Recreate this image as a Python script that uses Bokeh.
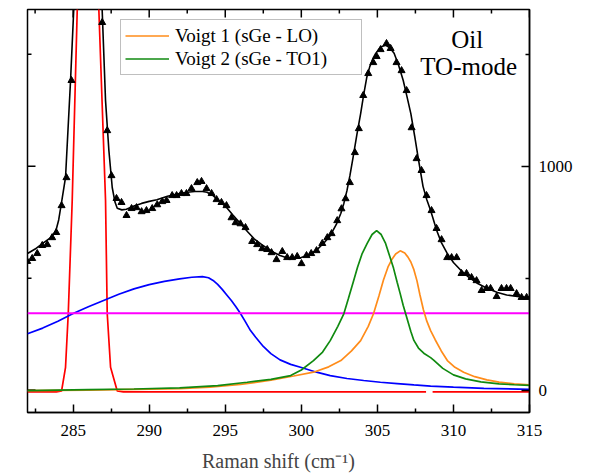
from bokeh.plotting import figure
from bokeh.models import Range1d, FixedTicker, Legend, LegendItem, Label
from bokeh.embed import file_html
from bokeh.resources import INLINE

NAN = float("nan")

# measured spectrum (triangles)
data_x = [281.98, 282.31, 282.64, 282.97, 283.30, 283.62, 283.89, 284.24, 284.56, 284.89,
          285.22, 285.55, 285.88, 286.21, 286.58, 286.91, 287.24, 287.52, 287.85, 288.18,
          288.51, 288.84, 289.17, 289.50, 289.82, 290.20, 290.53, 290.86, 291.14, 291.51,
          291.80, 292.12, 292.45, 292.78, 293.16, 293.44, 293.77, 294.10, 294.43, 294.75,
          295.08, 295.41, 295.68, 296.00, 296.33, 296.77, 297.10, 297.43, 297.76, 298.04,
          298.37, 298.75, 299.07, 299.40, 299.73, 300.01, 300.34, 300.65, 301.00, 301.38,
          301.71, 301.99, 302.36, 302.64, 302.91, 303.19, 303.52, 303.78, 304.07, 304.40,
          304.73, 304.95, 305.21, 305.60, 305.87, 306.26, 306.59, 306.92, 307.25, 307.58,
          307.90, 308.23, 308.56, 308.89, 309.22, 309.59, 309.88, 310.21, 310.53, 310.86,
          311.19, 311.52, 311.85, 312.18, 312.44, 312.84, 313.16, 313.49, 313.76, 314.15,
          314.48, 314.81]
data_y = [575, 588, 610, 646, 650, 681, 704, 824, 949, 1383,
          2300, 3300, 3800, 3400, 2400, 1642, 1159, 958, 856, 838,
          780, 811, 815, 797, 802, 811, 828, 842, 847, 869,
          869, 878, 878, 900, 927, 932, 900, 878, 851, 838,
          824, 770, 748, 743, 726, 664, 650, 632, 628, 614,
          583, 619, 592, 592, 597, 565, 601, 610, 623, 655,
          681, 699, 757, 810, 855, 927, 1061, 1168, 1316, 1414,
          1463, 1490, 1521, 1548, 1526, 1463, 1427, 1338, 1172, 1034,
          981, 869, 802, 722, 672, 592, 592, 592, 521, 521,
          503, 489, 445, 454, 454, 418, 454, 454, 454, 431,
          414, 414]

# cumulative fit (black line)
fit_x = [282.0, 282.5, 283.0, 283.5, 283.84, 284.05, 284.24, 284.5, 284.83, 285.04,
         285.3, 285.6, 285.9, 286.2, 286.5, 286.91, 287.13, 287.35, 287.57, 287.75,
         287.9, 288.2, 288.5, 289.0, 289.5, 290.0, 290.5, 291.2, 292.0, 292.5,
         293.0, 293.5, 293.8, 294.2, 294.6, 295.1, 295.5, 296.0, 296.5, 296.9,
         297.4, 297.8, 298.2, 298.6, 299.0, 299.5, 300.0, 300.5, 301.0, 301.5,
         301.9, 302.3, 302.6, 302.8, 303.0, 303.2, 303.4, 303.65, 303.9, 304.1,
         304.3, 304.5, 304.7, 304.9, 305.1, 305.3, 305.55, 305.8, 306.1, 306.4,
         306.7, 306.95, 307.2, 307.45, 307.7, 308.0, 308.25, 308.5, 308.9, 309.2,
         309.6, 310.0, 310.5, 311.0, 311.6, 312.2, 312.9, 313.5, 314.2, 315.0]
fit_y = [610, 630, 655, 680, 705, 760, 840, 950, 1383, 1700,
         2600, 3600, 4000, 3700, 2700, 1695, 1293, 1070, 905, 840,
         812, 805, 808, 822, 834, 843, 850, 866, 878, 884,
         887, 887, 884, 869, 845, 815, 782, 744, 705, 676,
         650, 632, 615, 601, 592, 588, 592, 605, 625, 658,
         690, 740, 790, 835, 891, 960, 1038, 1140, 1235, 1320,
         1396, 1445, 1480, 1505, 1522, 1535, 1540, 1530, 1505, 1450,
         1383, 1310, 1235, 1135, 1030, 910, 850, 802, 713, 660,
         610, 570, 534, 505, 476, 455, 436, 425, 418, 412]

# narrow peak (red)
red_x = [282.0, 283.9, 284.24, 284.5, 284.68, 284.94, 285.27, 285.6, 285.95, 286.3,
         286.69, 287.13, 287.24, 287.46, 287.9, 288.3, 295.0, 302.0, 308.2, 308.4,
         308.63, 315.0]
red_y = [-8, -8, -4, 102, 343, 848, 1700, 3200, 3800, 3200,
         1700, 848, 343, 102, -4, -8, -8, -8, -8, NAN,
         -8, -8]

# broad band (blue)
blue_x = [282.0, 283.0, 284.0, 285.0, 286.0, 287.0, 288.0, 289.0, 290.0, 291.0,
          292.0, 292.8, 293.5, 293.9, 294.2, 294.5, 294.8, 295.1, 295.4, 295.7,
          296.0, 296.3, 296.66, 297.0, 297.5, 298.0, 298.6, 299.3, 300.0, 301.0,
          301.9, 303.0, 304.1, 305.2, 306.3, 307.4, 308.5, 310.0, 312.0, 315.0]
blue_y = [252, 277, 308, 342, 372, 400, 428, 452, 471, 486,
          497, 504, 507, 502, 490, 472, 450, 425, 400, 372,
          342, 308, 266, 236, 195, 163, 135, 115, 101, 80,
          65, 52, 43, 35, 29, 23, 18, 13, 8, 3]

# constant background (magenta)
bg_x = [282.0, 315.0]
bg_y = [343, 343]

# Voigt 1 (orange)
v1_x = [282.0, 286.0, 289.0, 292.0, 294.0, 296.0, 298.0, 299.5, 300.8, 301.8,
        302.6, 303.3, 303.9, 304.4, 304.75, 305.1, 305.4, 305.7, 305.95, 306.2,
        306.5, 306.8, 307.0, 307.2, 307.4, 307.6, 307.8, 308.03, 308.25, 308.5,
        308.8, 309.2, 309.6, 310.1, 310.67, 311.4, 312.2, 313.0, 314.0, 315.0]
v1_y = [-2, 0, 3, 6, 13, 25, 44, 63, 80, 104,
        132, 175, 221, 285, 342, 420, 492, 550, 583, 608,
        622, 612, 595, 572, 538, 489, 425, 358, 308, 266,
        225, 175, 132, 102, 80, 60, 46, 36, 28, 23]

# Voigt 2 (green)
v2_x = [282.0, 286.0, 289.0, 292.0, 294.5, 296.44, 298.0, 299.3, 300.0, 300.8,
        301.4, 301.9, 302.4, 302.8, 303.1, 303.4, 303.7, 304.0, 304.33, 304.65,
        304.95, 305.25, 305.54, 305.8, 306.06, 306.3, 306.5, 306.7, 306.96, 307.2,
        307.4, 307.7, 308.1, 308.5, 308.7, 309.3, 310.0, 310.8, 311.8, 313.0,
        314.0, 315.0]
v2_y = [-2, 2, 5, 10, 20, 35, 48, 65, 90, 132,
        170, 221, 285, 342, 410, 480, 550, 610, 655, 695,
        712, 695, 655, 600, 545, 482, 431, 378, 318, 262,
        222, 188, 162, 145, 134, 97, 68, 50, 37, 28,
        24, 21]

x_major = [285, 290, 295, 300, 305, 310, 315]
x_minor = [282.5, 287.5, 292.5, 297.5, 302.5, 307.5, 312.5]
y_major = [0, 1000]
y_minor = [500, 1500]

X_MIN, X_MAX = 282, 315
Y_MIN, Y_MAX = -100, 1700

FONT = "Liberation Serif"

p = figure(width=596, height=476, output_backend="svg", toolbar_location=None,
           x_range=Range1d(X_MIN, X_MAX), y_range=Range1d(Y_MIN, Y_MAX),
           y_axis_location="right",
           min_border_left=27, min_border_right=67, min_border_top=9, min_border_bottom=64)
p.grid.visible = False
p.outline_line_color = "black"
p.outline_line_width = 1.5
p.background_fill_color = "white"
p.border_fill_color = "white"

xa = p.xaxis[0]
xa.ticker = FixedTicker(ticks=x_major, minor_ticks=x_minor)
ya = p.yaxis[0]
ya.ticker = FixedTicker(ticks=y_major, minor_ticks=y_minor)
for ax in (xa, ya):
    ax.major_tick_in = 8
    ax.major_tick_out = 0
    ax.minor_tick_in = 4
    ax.minor_tick_out = 0
    ax.axis_line_color = "black"
    ax.axis_line_width = 1.5
    ax.major_tick_line_width = 1.5
    ax.minor_tick_line_width = 1.5
    ax.major_label_text_font = FONT
    ax.major_label_text_color = "black"
    ax.major_label_text_font_size = "17px"
xa.major_label_standoff = 12
ya.major_label_standoff = 9
xa.axis_label = "Raman shift (cm\u207b\u00b9)"
xa.axis_label_text_font = FONT
xa.axis_label_text_font_size = "20px"
xa.axis_label_text_font_style = "normal"
xa.axis_label_standoff = 11

# inward ticks on the top and left frame edges (no labels there)
px_x = (X_MAX - X_MIN) / 502.0   # data units per pixel, horizontal
px_y = (Y_MAX - Y_MIN) / 403.0   # data units per pixel, vertical
p.segment(x0=x_major, y0=[Y_MAX] * len(x_major), x1=x_major,
          y1=[Y_MAX - 8 * px_y] * len(x_major), color="black", line_width=1.5)
p.segment(x0=x_minor, y0=[Y_MAX] * len(x_minor), x1=x_minor,
          y1=[Y_MAX - 4 * px_y] * len(x_minor), color="black", line_width=1.5)
p.segment(x0=[X_MIN] * len(y_major), y0=y_major, x1=[X_MIN + 8 * px_x] * len(y_major),
          y1=y_major, color="black", line_width=1.5)
p.segment(x0=[X_MIN] * len(y_minor), y0=y_minor, x1=[X_MIN + 4 * px_x] * len(y_minor),
          y1=y_minor, color="black", line_width=1.5)

p.line(red_x, red_y, color="#ff0000", line_width=1.7)
p.line(blue_x, blue_y, color="#0000ff", line_width=1.7)
p.line(bg_x, bg_y, color="#ff00ff", line_width=2)
r_or = p.line(v1_x, v1_y, color="#ff8c1a", line_width=1.7)
r_gr = p.line(v2_x, v2_y, color="#108a10", line_width=1.7)
p.scatter(data_x, data_y, marker="triangle", size=7, color="black")
p.line(fit_x, fit_y, color="black", line_width=1.6)

legend = Legend(items=[LegendItem(label="Voigt 1 (sGe - LO)", renderers=[r_or]),
                       LegendItem(label="Voigt 2 (sGe - TO1)", renderers=[r_gr])],
                location=(93, 337), orientation="vertical")
legend.border_line_color = "#808080"
legend.border_line_width = 1
legend.background_fill_color = "white"
legend.background_fill_alpha = 1
legend.padding = 4
legend.spacing = 0
legend.margin = 0
legend.label_height = 23
legend.glyph_height = 23
legend.glyph_width = 44
legend.label_standoff = 6
legend.label_width = 182
legend.label_text_font = FONT
legend.label_text_font_size = "19px"
legend.label_text_color = "black"
p.add_layout(legend)

p.add_layout(Label(x=310.9, y=1507, text="Oil", text_align="center",
                   text_font=FONT, text_font_size="25px", text_color="black"))
p.add_layout(Label(x=311.0, y=1385, text="TO-mode", text_align="center",
                   text_font=FONT, text_font_size="25px", text_color="black"))

open("out.html", "w").write(file_html(p, INLINE))
